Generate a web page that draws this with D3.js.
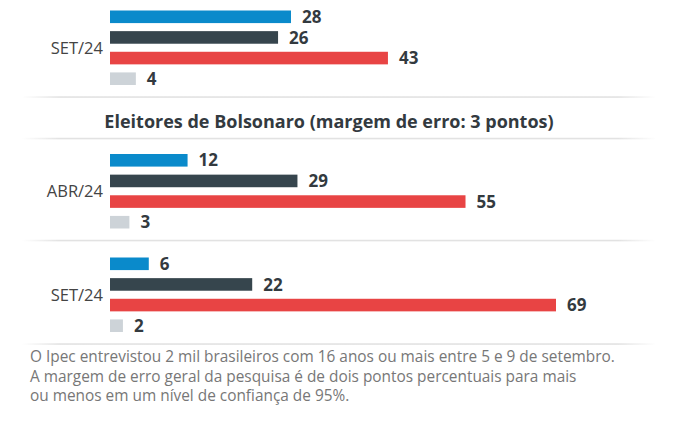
<!DOCTYPE html>
<html><head><meta charset="utf-8">
<script src="https://cdn.jsdelivr.net/npm/d3@7"></script>
<style>
html,body{margin:0;padding:0;background:#fff;}
svg{display:block;font-family:"Open Sans","Noto Sans",sans-serif;}
</style></head>
<body>
<script>
// ---- data ----
const seriesNames = ["s1","s2","s3","s4"];
const seriesColors = ["#0a8acb","#36454d","#e84444","#cdd3d8"];
const sectionTitles = ["", "Eleitores de Bolsonaro (margem de erro: 3 pontos)"];
const groupLabels = ["SET/24","ABR/24","SET/24"];
const groupSection = [0,1,1];
const groupValues = [
  [28,26,43,4],
  [12,29,55,3],
  [6,22,69,2]
];
const footnote = [
  "O Ipec entrevistou 2 mil brasileiros com 16 anos ou mais entre 5 e 9 de setembro.",
  "A margem de erro geral da pesquisa é de dois pontos percentuais para mais",
  "ou menos em um nível de confiança de 95%."
];

// ---- layout ----
const W = 677, H = 435;
const svg = d3.select("body").append("svg").attr("width",W).attr("height",H);

const defs = svg.append("defs");
const grad = defs.append("linearGradient").attr("id","fade").attr("x1","0%").attr("x2","100%");
grad.append("stop").attr("offset","0%").attr("stop-color","#e2e2e2").attr("stop-opacity",0);
grad.append("stop").attr("offset","6%").attr("stop-color","#e2e2e2").attr("stop-opacity",1);
grad.append("stop").attr("offset","94%").attr("stop-color","#e2e2e2").attr("stop-opacity",1);
grad.append("stop").attr("offset","100%").attr("stop-color","#e2e2e2").attr("stop-opacity",0);

const x = d3.scaleLinear().domain([0,69]).range([110,556]);
const inner = d3.scaleBand().domain(d3.range(seriesNames.length)).range([0,74.5]).paddingInner(0.39).paddingOuter(0);

const groupH = 103.5, titleH = 40;
let tops = [], y0 = 10.5, prevSection = groupSection[0];
groupValues.forEach((g,i)=>{
  if (i>0) {
    y0 += groupH;
    if (groupSection[i] !== prevSection) y0 += titleH;
  }
  prevSection = groupSection[i];
  tops.push(y0);
});

function sepLine(y){
  svg.append("rect").attr("x",22).attr("y",y-0.75).attr("width",634).attr("height",1.6).attr("fill","url(#fade)");
}

groupValues.forEach((vals,gi)=>{
  const g = svg.append("g").attr("transform",`translate(0,${tops[gi]})`);
  g.selectAll("rect").data(vals).join("rect")
    .attr("x",x(0)).attr("y",(d,i)=>inner(i))
    .attr("width",d=>x(d)-x(0)).attr("height",inner.bandwidth())
    .attr("fill",(d,i)=>seriesColors[i]);
  g.selectAll("text.v").data(vals).join("text").attr("class","v")
    .attr("x",d=>x(d)+11).attr("y",(d,i)=>inner(i)+inner.bandwidth()/2)
    .attr("dy","0.36em").attr("font-size",17).attr("font-weight",700).attr("fill","#333a3f")
    .text(d=>d);
  g.append("text").attr("x",103).attr("y",37.2).attr("dy","0.36em").attr("text-anchor","end")
    .attr("font-size",16.5).attr("fill","#444").text(groupLabels[gi]);
  sepLine(tops[gi]+86.5);
  if (gi>0 && groupSection[gi]!==groupSection[gi-1]) {
    svg.append("text").attr("x",329).attr("y",tops[gi]-32).attr("dy","0.36em")
      .attr("text-anchor","middle").attr("font-size",18).attr("font-weight",700).attr("fill","#333a3f")
      .text(sectionTitles[groupSection[gi]]);
    sepLine(tops[gi]-15.5);
  }
});

svg.selectAll("text.f").data(footnote).join("text").attr("class","f")
  .attr("x",30).attr("y",(d,i)=>362+i*19.5)
  .attr("font-size",15.4).attr("fill","#777").text(d=>d);
</script>
</body></html>
